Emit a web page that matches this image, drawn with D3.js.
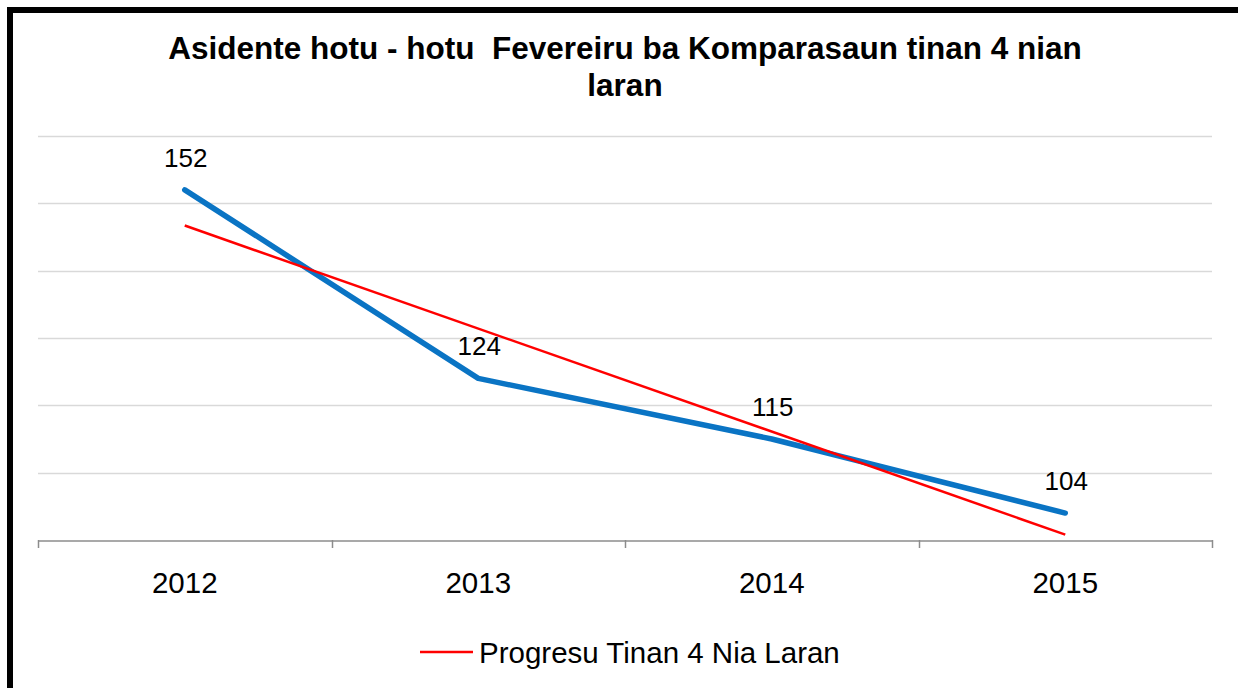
<!DOCTYPE html>
<html lang="tet">
<head>
    <meta charset="UTF-8">
    <title>Asidente hotu - hotu Fevereiru</title>
    <style>
        body {
            margin: 0;
            padding: 0;
            background: #fff;
            font-family: "Liberation Sans", Arial, sans-serif;
        }
        svg {
            display: block;
        }
        .grid line {
            stroke: #d9d9d9;
            stroke-width: 1.3;
        }
        .title {
            white-space: pre;
        }
    </style>
</head>
<body>
    <div id="chart"></div>

    <script src="https://d3js.org/d3.v7.min.js"></script>
    <script>
        // Dadus
        const years = ["2012", "2013", "2014", "2015"];
        const accidents = [152, 124, 115, 104];
        // liña trend (lee husi imajen, iha 2012 no 2015)
        const trendYears = ["2012", "2015"];
        const trendValues = [146.7, 100.8];
        const gridValues = [110, 120, 130, 140, 150, 160];
        const titleLines = ["Asidente hotu - hotu  Fevereiru ba Komparasaun tinan 4 nian", "laran"];
        const legendLabel = "Progresu Tinan 4 Nia Laran";

        const W = 1238, H = 688;
        const plot = { left: 38, right: 1212, top: 136, bottom: 540 };

        const svg = d3.select("#chart")
            .append("svg")
            .attr("width", W)
            .attr("height", H);

        // frame (leten no karuk deit)
        svg.append("rect").attr("x", 7).attr("y", 7).attr("width", W - 7).attr("height", 6).attr("fill", "#000");
        svg.append("rect").attr("x", 7).attr("y", 7).attr("width", 6).attr("height", H - 7).attr("fill", "#000");

        const x = d3.scaleBand()
            .domain(years)
            .range([plot.left, plot.right]);

        const y = d3.scaleLinear()
            .domain([100, 160])
            .range([plot.bottom, plot.top]);

        const cx = d => x(d) + x.bandwidth() / 2;

        // gridlines
        svg.append("g")
            .attr("class", "grid")
            .selectAll("line")
            .data(gridValues)
            .enter()
            .append("line")
            .attr("x1", plot.left)
            .attr("x2", plot.right)
            .attr("y1", d => Math.round(y(d)) + 0.5)
            .attr("y2", d => Math.round(y(d)) + 0.5);

        // x axis
        const xAxis = svg.append("g")
            .attr("transform", `translate(0, ${plot.bottom + 0.5})`)
            .call(d3.axisBottom(x).tickSize(0).tickFormat(""));
        xAxis.select(".domain").attr("stroke", "#8c8c8c").attr("stroke-width", 1.5);

        const tickPos = years.map(d => x(d)).concat([plot.right]);
        svg.append("g")
            .selectAll("line")
            .data(tickPos)
            .enter()
            .append("line")
            .attr("x1", d => Math.round(d) + 0.5)
            .attr("x2", d => Math.round(d) + 0.5)
            .attr("y1", plot.bottom)
            .attr("y2", plot.bottom + 8)
            .attr("stroke", "#8c8c8c")
            .attr("stroke-width", 1.5);

        svg.append("g")
            .selectAll("text")
            .data(years)
            .enter()
            .append("text")
            .attr("x", d => cx(d))
            .attr("y", 593)
            .attr("text-anchor", "middle")
            .style("font-size", "29.5px")
            .style("fill", "#000")
            .text(d => d);

        // serie prinsipal
        const line = d3.line()
            .x((d, i) => cx(years[i]))
            .y(d => y(d));

        svg.append("path")
            .datum(accidents)
            .attr("d", line)
            .attr("fill", "none")
            .attr("stroke", "#0a74c4")
            .attr("stroke-width", 5.5)
            .attr("stroke-linejoin", "round")
            .attr("stroke-linecap", "round");

        // trend
        svg.append("path")
            .datum(trendValues)
            .attr("d", d3.line().x((d, i) => cx(trendYears[i])).y(d => y(d)))
            .attr("fill", "none")
            .attr("stroke", "#ff0000")
            .attr("stroke-width", 2.5);

        // label dadus
        svg.append("g")
            .selectAll("text")
            .data(accidents)
            .enter()
            .append("text")
            .attr("x", (d, i) => cx(years[i]) + 1)
            .attr("y", d => y(d) - 23)
            .attr("text-anchor", "middle")
            .style("font-size", "26px")
            .style("fill", "#000")
            .text(d => d);

        // titulu
        svg.append("text")
            .attr("class", "title")
            .attr("x", 625)
            .attr("y", 59)
            .attr("text-anchor", "middle")
            .style("font-size", "31.5px")
            .style("font-weight", "bold")
            .selectAll("tspan")
            .data(titleLines)
            .enter()
            .append("tspan")
            .attr("x", 625)
            .attr("dy", (d, i) => i === 0 ? 0 : 37)
            .text(d => d);

        // legenda
        const legend = svg.append("g");
        legend.append("line")
            .attr("x1", 420)
            .attr("x2", 473)
            .attr("y1", 652)
            .attr("y2", 652)
            .attr("stroke", "#ff0000")
            .attr("stroke-width", 2.5);
        legend.append("text")
            .attr("x", 479)
            .attr("y", 663)
            .style("font-size", "29.5px")
            .text(legendLabel);
    </script>
</body>
</html>
